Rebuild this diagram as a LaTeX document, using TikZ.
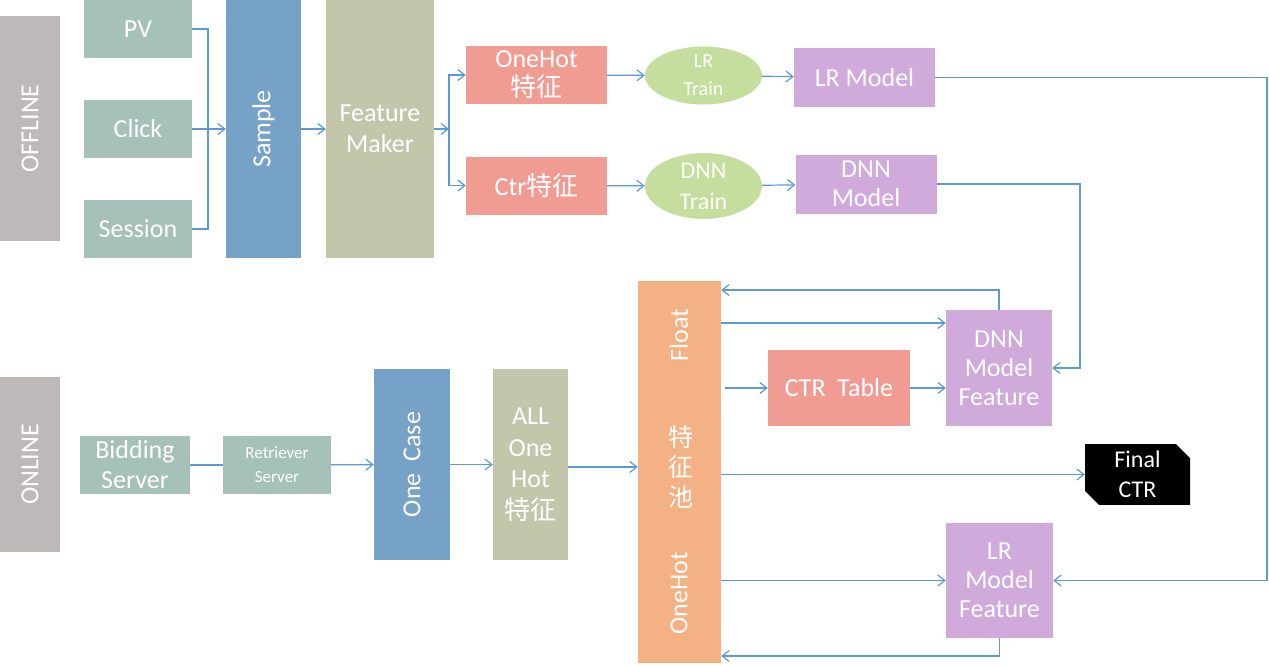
\documentclass[tikz,border=0pt]{standalone}
\usepackage{fontspec}
\setmainfont{Carlito}
\newfontfamily\cjk{Noto Sans CJK SC}
\usetikzlibrary{arrows.meta, shapes.geometric, shapes.misc, calc}
\definecolor{labgray}{RGB}{191,184,184}
\definecolor{srcteal}{RGB}{166,192,186}
\definecolor{stepblue}{RGB}{119,162,199}
\definecolor{makerolive}{RGB}{196,198,171}
\definecolor{featsalmon}{RGB}{240,156,147}
\definecolor{trainlime}{RGB}{197,222,157}
\definecolor{modelpurple}{RGB}{207,170,219}
\definecolor{poolorange}{RGB}{244,177,131}
\definecolor{linkblue}{RGB}{91,155,213}

\begin{document}
\begin{tikzpicture}[x=1pt, y=-1pt,
  blk/.style={rectangle, inner sep=0pt, text=white, align=center, font=\fontsize{26}{30}\selectfont},
  side/.style={blk, fill=labgray, rotate=90, minimum height=60pt},
  srcbox/.style={blk, fill=srcteal, minimum width=108pt, minimum height=58pt},
  featbox/.style={blk, fill=featsalmon, minimum width=141pt, minimum height=58pt, font=\fontsize{26}{29}\selectfont},
  trainell/.style={blk, ellipse, fill=trainlime, minimum width=117pt, minimum height=58pt},
  modelbox/.style={blk, fill=modelpurple, minimum width=141pt, minimum height=59pt, font=\fontsize{26}{29}\selectfont},
  mfbox/.style={blk, fill=modelpurple, minimum width=106pt, minimum height=116pt, font=\fontsize{26}{29}\selectfont},
  link/.style={draw=linkblue, line width=1.2pt},
  arr/.style={link, -{Straight Barb[length=7pt, width=11pt]}}
]
  \useasboundingbox (0,0) rectangle (1269,665);

  % OFFLINE
  \node[side, minimum width=225pt] (offline) at (30,128.5) {OFFLINE};
  \node[srcbox] (pv) at (138,29) {PV};
  \node[srcbox] (click) at (138,129) {Click};
  \node[srcbox] (session) at (138,229) {Session};
  \node[blk, fill=stepblue, rotate=90, minimum width=258pt, minimum height=75pt] (sample) at (263.5,129) {Sample};
  \node[blk, fill=makerolive, minimum width=108pt, minimum height=258pt, font=\fontsize{26}{31}\selectfont] (maker) at (380,129) {Feature\\Maker};

  \node[featbox] (onehot) at (536.5,75) {OneHot\\{\cjk 特征}};
  \node[featbox] (ctrfeat) at (536.5,185.5) {Ctr{\cjk 特征}};
  \node[trainell, font=\fontsize{20}{28}\selectfont] (lrtrain) at (703.5,75.5) {LR\\Train};
  \node[trainell, font=\fontsize{24}{31}\selectfont] (dnntrain) at (703.5,186) {DNN\\Train};
  \node[modelbox] (lrmodel) at (864.5,77.5) {LR Model};
  \node[modelbox] (dnnmodel) at (866,184) {DNN\\Model};

  \coordinate (srcjoin) at (208,129);
  \draw[link] (pv.east) -| (srcjoin);
  \draw[link] (session.east) -| (srcjoin);
  \draw[arr] (click) -- (sample);
  \draw[arr] (sample) -- (maker);
  \coordinate (fork) at (449,129);
  \draw[arr] (maker.east) -- (fork);
  \draw[arr] (fork) |- (onehot.west);
  \draw[arr] (fork) |- (ctrfeat.west);
  \draw[arr] (onehot) -- (lrtrain);
  \draw[arr] (ctrfeat) -- (dnntrain);
  \draw[arr] (lrtrain) -- (lrmodel);
  \draw[arr] (dnntrain) -- (dnnmodel);

  % ONLINE
  \node[side, minimum width=175pt] (online) at (30,464.5) {ONLINE};
  \node[srcbox, minimum width=110pt] (bidding) at (135,465) {Bidding\\Server};
  \node[srcbox, font=\fontsize{17}{24}\selectfont] (retriever) at (277,465) {Retriever\\Server};
  \node[blk, fill=stepblue, rotate=90, minimum width=191pt, minimum height=76pt] (onecase) at (412,464.5) {One\ \ Case};
  \node[blk, fill=makerolive, minimum width=75pt, minimum height=191pt, font=\fontsize{26}{31.5}\selectfont] (allhot) at (530.5,464.5) {ALL\\One\\Hot\\{\cjk 特征}};

  \node[blk, fill=poolorange, minimum width=83pt, minimum height=382pt] (pool) at (679.5,472) {};
  \node[blk, rotate=90] (float) at (679,335) {Float};
  \node[blk, font=\fontsize{25}{30}\selectfont\cjk] (poolname) at (681,467) {特\\征\\池};
  \node[blk, rotate=90] (poolhot) at (679,593) {OneHot};

  \node[mfbox] (dnnmf) at (999,368) {DNN\\Model\\Feature};
  \node[blk, fill=featsalmon, minimum width=142pt, minimum height=76pt] (ctrtable) at (839,388) {CTR\ \ Table};
  \node[blk, fill=black, chamfered rectangle, chamfered rectangle corners={north east, south west}, chamfered rectangle sep=7pt, minimum width=105pt, minimum height=55pt, font=\fontsize{24}{30}\selectfont] (final) at (1137.5,474.5) {Final\\CTR};
  \node[mfbox, minimum width=107pt, minimum height=115pt] (lrmf) at (999.5,580.5) {LR\\Model\\Feature};

  \draw[link] (bidding) -- (retriever);
  \draw[arr] (retriever) -- (onecase);
  \draw[arr] (onecase) -- (allhot);
  \draw[arr] (allhot.east |- 0,467) -- (pool.west |- 0,467);

  \coordinate (dnnback) at (999,290);
  \draw[arr] (dnnmf.north) -- (dnnback) -- (dnnback -| pool.east);
  \draw[arr] (pool.east |- 0,323) -- (dnnmf.west |- 0,323);
  \draw[arr, shorten <=4pt] (pool.east |- ctrtable) -- (ctrtable.west);
  \draw[arr] (ctrtable.east) -- (ctrtable.east -| dnnmf.west);
  \draw[arr] (pool.east |- final) -- (final.west);
  \draw[arr] (pool.east |- lrmf) -- (lrmf.west);
  \coordinate (lrback) at (999.5,656);
  \draw[arr] (lrmf.south) -- (lrback) -- (lrback -| pool.east);

  % models feed online features
  \coordinate (lrturn) at (1267,580.5);
  \draw[arr] (lrmodel.east) -| (lrturn) -- (lrmf.east);
  \coordinate (dnnturn) at (1080,368);
  \draw[arr] (dnnmodel.east) -| (dnnturn) -- (dnnmf.east);
\end{tikzpicture}
\end{document}
